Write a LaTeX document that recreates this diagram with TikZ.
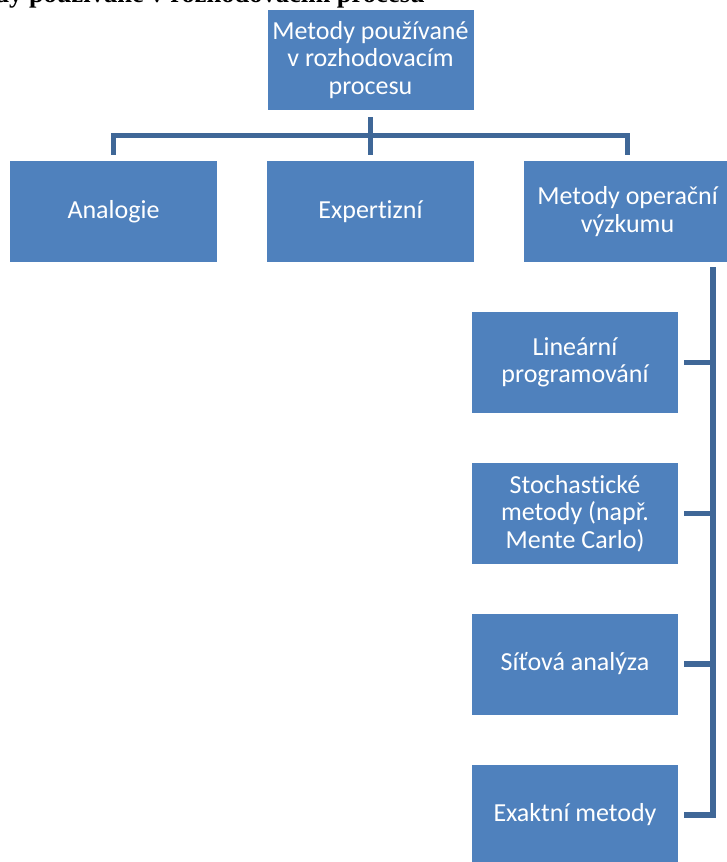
\documentclass[tikz,border=0pt]{standalone}
\usepackage{fontspec}
\setmainfont{Carlito}[Ligatures=NoCommon]
\newfontfamily\headfont{Liberation Serif}
\usetikzlibrary{calc}
\definecolor{boxblue}{HTML}{4F81BD}
\definecolor{lineblue}{HTML}{3F6797}
\begin{document}
\begin{tikzpicture}[x=1pt,y=-1pt,
  blockbox/.style={rectangle, fill=boxblue, draw=none, text=white,
    minimum width=207pt, minimum height=101pt, inner sep=2pt,
    align=flush center, font=\fontsize{26}{27.5}\selectfont},
  subbox/.style={blockbox, minimum width=206pt, minimum height=101pt},
  conn/.style={draw=lineblue, line width=5.5pt, line join=miter}]
\useasboundingbox (0,0) rectangle (727,862);
\clip (0,0) rectangle (727,862);

% heading of the page, partly cut at the top edge
\node[anchor=base east, inner sep=0pt, font=\headfont\bfseries\fontsize{26.5}{30}\selectfont]
  (head) at (425,2.5) {Metody používané v rozhodovacím procesu};

% root and first level
\node[blockbox, minimum width=206pt, minimum height=100pt] (top) at (370.5,60)
  {Metody používané\\v~rozhodovacím\\procesu};
\node[blockbox] (ana) at (113.5,211.5) {Analogie};
\node[blockbox] (exp) at (370.5,211.5) {Expertizní};
\node[blockbox] (mor) at (627.5,211.5) {Metody operační\\výzkumu};

% second level under the operations research box
\node[subbox] (s1) at (575,362.5) {Lineární\\programování};
\node[subbox] (s2) at (575,513.5) {Stochastické\\metody (např.\\Mente Carlo)};
\node[subbox] (s3) at (575,664) {Síťová analýza};
\node[subbox] (s4) at (575,815) {Exaktní metody};

% tree connectors of the first level
\coordinate (bar) at ($(top.south)!.5!(exp.north)$);
\draw[conn] ([yshift=-7pt]top.south) -- ([yshift=6pt]exp.north);
\draw[conn] ([yshift=6pt]ana.north) |- (bar) -| ([yshift=6pt]mor.north);

% vertical trunk on the right and its branches
\coordinate (trunk) at (713,267);
\draw[conn] (trunk) |- ([xshift=6pt]s4.east);
\foreach \s in {s1,s2,s3}
  \draw[conn] ([xshift=6pt]\s.east) -- (\s.east -| trunk);
\end{tikzpicture}
\end{document}
